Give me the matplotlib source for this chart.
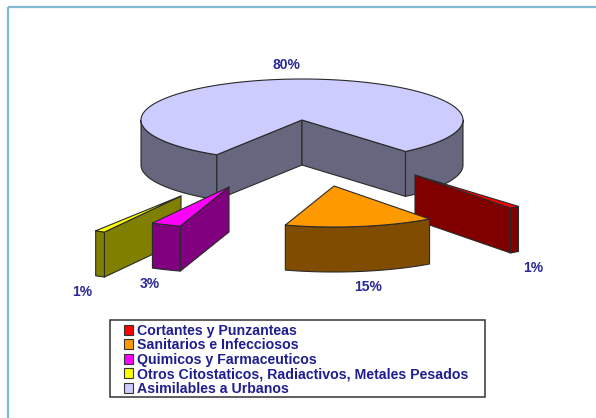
import numpy as np
import matplotlib
matplotlib.use("Agg")
import matplotlib.pyplot as plt
from matplotlib.patches import Polygon, Patch, Rectangle

plt.rcParams['font.family'] = ['Liberation Sans', 'DejaVu Sans']

# Data
categories = ['Cortantes y Punzanteas', 'Sanitarios e Infecciosos', 'Quimicos y Farmaceuticos',
              'Otros Citostaticos, Radiactivos, Metales Pesados', 'Asimilables a Urbanos']
shares = [1, 15, 3, 1, 80]
top_colors = ['#FF0000', '#FF9900', '#FF00FF', '#FFFF00', '#CCCCFF']
side_colors = ['#800000', '#804D00', '#800080', '#808000', '#66667F']
apexes = [(415, 175), (334, 186), (229, 187), (181, 196), (302, 120)]
label_pos = [(533, 268), (368, 287), (150, 284), (82, 292), (286, 65)]
draw_order = [4, 0, 1, 3, 2]

START = 140.0
RX, RY, DEPTH = 161.0, 41.0, 45.0
TEXT = '#2A2A96'
EDGE = '#2A2A2A'

fig = plt.figure(figsize=(5.96, 4.18), dpi=100)
ax = fig.add_axes([0, 0, 1, 1])
ax.set_xlim(0, 596)
ax.set_ylim(418, 0)
ax.axis('off')


def pt(apex, a):
    # clockwise angle from 12 o'clock; screen y grows downward
    r = np.radians(a)
    return np.column_stack([apex[0] + RX * np.sin(r), apex[1] - RY * np.cos(r)])


def poly(xy, color, z):
    ax.add_patch(Polygon(xy, closed=True, facecolor=color, edgecolor=EDGE, lw=0.8,
                         joinstyle='round', zorder=z))


cum = START + 3.6 * np.cumsum([0] + shares)
for z, i in enumerate(draw_order):
    a1, a2 = cum[i], cum[i + 1]
    apex = np.array(apexes[i], float)
    base = z * 10 + 1
    drop = np.array([0, DEPTH])
    # radial walls that face the viewer
    if np.sin(np.radians(a1)) < 0:
        p = pt(apex, a1)[0]
        poly([apex, p, p + drop, apex + drop], side_colors[i], base)
    if np.sin(np.radians(a2)) > 0:
        p = pt(apex, a2)[0]
        poly([apex, p, p + drop, apex + drop], side_colors[i], base)
    # outer wall: keep parts between 90 and 270 degrees (mod 360)
    for lo, hi in [(90, 270), (450, 630)]:
        u, v = max(a1, lo), min(a2, hi)
        if v > u:
            arc = pt(apex, np.linspace(u, v, 80))
            poly(np.vstack([arc, arc[::-1] + drop]), side_colors[i], base + 1)
    # top surface
    arc = pt(apex, np.linspace(a1, a2, 240))
    poly(np.vstack([apex, arc]), top_colors[i], base + 2)
    lx, ly = label_pos[i]
    ax.text(lx, ly, f'{shares[i]}%', color=TEXT, fontsize=10, fontweight='bold',
            ha='center', va='center', zorder=100)

# Outer frame
ax.plot([8, 8], [418, 7], color='#7FB9D3', lw=1.6, zorder=0, solid_capstyle='butt')
ax.plot([8, 596], [7, 7], color='#7FB9D3', lw=1.6, zorder=0, solid_capstyle='butt')

# Legend
ax.add_patch(Rectangle((109.5, 320), 375, 77, facecolor='white', edgecolor='#333333', lw=1.1, zorder=190))
handles = [Patch(facecolor=c, edgecolor='#333333', lw=0.8) for c in top_colors]
leg = ax.legend(handles, categories, loc='upper left', bbox_to_anchor=(124 / 596, 1 - 323.5 / 418),
                bbox_transform=fig.transFigure, borderaxespad=0, borderpad=0, fontsize=10.2,
                labelcolor='#1F1F8F', frameon=False,
                handlelength=0.65, handleheight=0.7, handletextpad=0.3,
                labelspacing=0.04)
leg.set_zorder(200)
for t in leg.get_texts():
    t.set_fontweight('bold')

fig.savefig('out.png', dpi=100)
